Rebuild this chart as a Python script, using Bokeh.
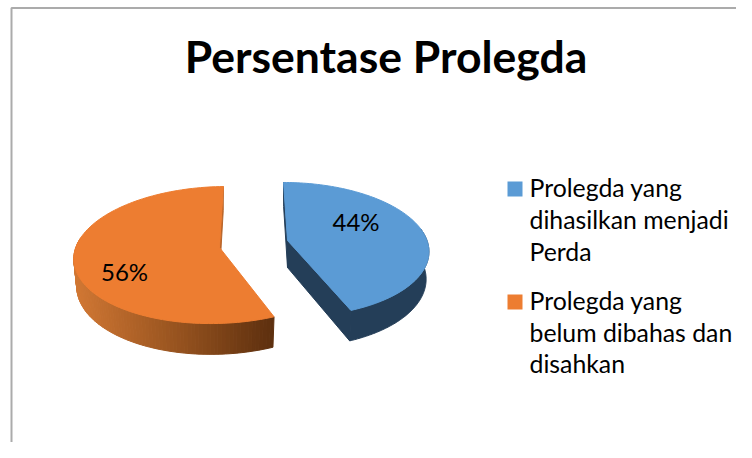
import numpy as np
from bokeh.plotting import figure
from bokeh.models import Range1d
from bokeh.core.properties import value
from bokeh.embed import file_html
from bokeh.resources import INLINE

# data
title = "Persentase Prolegda"
values = [44, 56]
legend_lines = [["Prolegda yang", "dihasilkan menjadi", "Perda"],
                ["Prolegda yang", "belum dibahas dan", "disahkan"]]

# style and layout
W, H = 736, 442
BLUE, ORANGE = "#5B9BD5", "#ED7D31"
BLUE_SIDE, ORANGE_CUT = "#243E58", "#B8652A"
FRAME = "#ABABAB"
apex = [(287.0, 240.0), (219.0, 247.0)]
spread = [139.5, 143.7]
shear = [4.5, -8.0]
tilt = [0.134, 0.11]
rise = [65.8, 67.7]
rotation = [0.0, -1.5]
DEPTH, FLOOR = 27.0, 1.05
label_xy = [(355.5, 221), (124, 271)]
legend_sq = [(514.5, 188.5), (514.5, 301.5)]
legend_base = [[187, 219, 251], [300, 332, 363]]
title_xy = (385.5, 55)

p = figure(width=W, height=H, x_range=Range1d(0, W), y_range=Range1d(H, 0),
           output_backend="svg", toolbar_location=None, min_border=0,
           outline_line_color=None, background_fill_color="white", border_fill_color="white")
p.axis.visible = False
p.grid.visible = False


def project(i, deg, r=1.0, bottom=False):
    th = np.radians(deg + rotation[i])
    X, Z = r * np.sin(th), -r * np.cos(th)
    d = 1 - tilt[i] * Z
    dx = (spread[i] * X + shear[i] * Z) / d
    dy = rise[i] * Z / d
    if bottom:
        return apex[i][0] + 0.98 * dx, apex[i][1] + DEPTH + FLOOR * dy
    return apex[i][0] + dx, apex[i][1] + dy


def arc(i, a, b, n=120, bottom=False):
    x, y = project(i, np.linspace(a, b, n), bottom=bottom)
    return list(x), list(y)


angles = np.cumsum([0] + [v * 3.6 for v in values])

# frame
p.line([11, 11, W], [H, 7.5, 7.5], line_color=FRAME, line_width=2)

# blue slice
a0, a1 = angles[0], angles[1]
ax, ay = apex[0]
bx, by = project(0, 0.0, r=0.0, bottom=True)
tbx, tby = project(0, a0)
bbx, bby = project(0, a0, bottom=True)
p.patch([tbx, bbx, bx, ax], [tby, bby, by, ay], fill_color=BLUE_SIDE, line_color=BLUE_SIDE)
fx, fy = project(0, a1)
fbx, fby = project(0, a1, bottom=True)
p.patch([ax, fx, fbx, bx], [ay, fy, fby, by], fill_color=BLUE_SIDE, line_color=BLUE_SIDE)
tx, ty = arc(0, 80, a1)
ux, uy = arc(0, a1, 80, bottom=True)
p.patch(tx + ux, ty + uy, fill_color=BLUE_SIDE, line_color=BLUE_SIDE)
x, y = arc(0, a0, a1)
p.patch([ax] + x, [ay] + y, fill_color=BLUE, line_color=BLUE)

# orange slice: cut sliver, shaded rim, top
a0, a1 = angles[1], angles[2]
ax, ay = apex[1]
bx, by = project(1, 0.0, r=0.0, bottom=True)
tbx, tby = project(1, a1)
bbx, bby = project(1, a1, bottom=True)
p.patch([tbx, bbx, bx, ax], [tby, bby, by, ay], fill_color=ORANGE_CUT, line_color=ORANGE_CUT)
stops_c = np.array([[0xD2, 0x78, 0x34], [0x9A, 0x55, 0x20], [0x5E, 0x30, 0x0F]], float)
edges = np.linspace(a0, 280, 90)
xs, ys, cols = [], [], []
fxs = project(1, a0)[0]
lxs = float(np.min(arc(1, a0, 280)[0]))
for e0, e1 in zip(edges[:-1], edges[1:]):
    t1, t2 = project(1, e0), project(1, e1)
    b1, b2 = project(1, e0, bottom=True), project(1, e1, bottom=True)
    xs.append([t1[0], t2[0], b2[0], b1[0]])
    ys.append([t1[1], t2[1], b2[1], b1[1]])
    f = np.clip((t1[0] - lxs) / (fxs - lxs), 0, 1) * 2
    j = min(int(f), 1)
    c = stops_c[j] + (stops_c[j + 1] - stops_c[j]) * (f - j)
    cols.append("#%02x%02x%02x" % tuple(int(v) for v in c))
p.patches(xs, ys, fill_color=cols, line_color=cols, line_width=1)
x, y = arc(1, a0, a1)
p.patch([ax] + x, [ay] + y, fill_color=ORANGE, line_color=ORANGE)

# percent labels
p.text([q[0] for q in label_xy], [q[1] for q in label_xy], text=[f"{v}%" for v in values],
       text_font=value("Lato"), text_font_size="24px", text_color="#000000",
       text_align="center", text_baseline="alphabetic")

# title
p.text([title_xy[0]], [title_xy[1]], text=[title], text_font=value("Lato"), text_font_style="bold",
       text_font_size="44.5px", text_color="#000000", text_align="center", text_baseline="alphabetic")

# legend
for (sx, sy), color, lines, bases in zip(legend_sq, [BLUE, ORANGE], legend_lines, legend_base):
    p.rect([sx], [sy], width=15, height=15, fill_color=color, line_color=None)
    p.text([529] * len(lines), bases, text=lines, text_font=value("Lato"), text_font_size="24.8px",
           text_color="#000000", text_align="left", text_baseline="alphabetic")

open("out.html", "w").write(file_html(p, INLINE))
